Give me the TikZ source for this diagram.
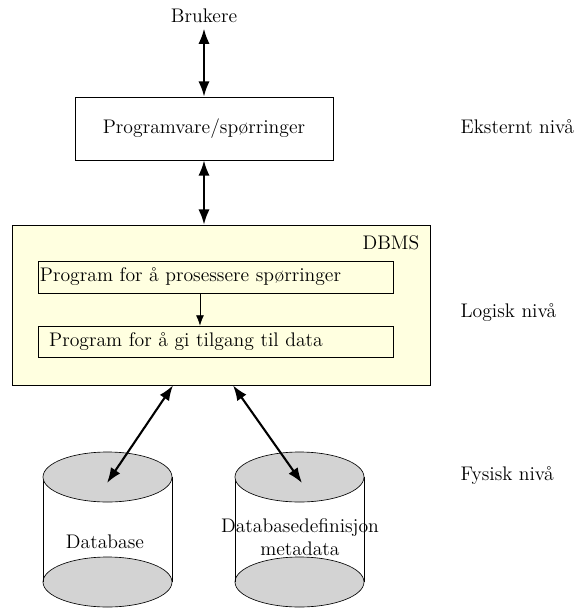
\documentclass[tikz,border=0pt]{standalone}
\usepackage{tikz}
\usetikzlibrary{arrows.meta,positioning}
\definecolor{dbyellow}{RGB}{255,255,224}
\definecolor{dbgray}{RGB}{211,211,211}
\tikzstyle{arrow} = [line width=1.3pt,{Latex[length=9.5pt,width=7pt]}-{Latex[length=9.5pt,width=7pt]}]
\tikzstyle{thinarrow} = [-{Latex[length=6.5pt,width=5pt]}]
\tikzstyle{box} = [draw, rectangle]
\tikzstyle{innerbox} = [draw, rectangle, fill=dbyellow, align=left]
\tikzstyle{disk} = [draw, fill=dbgray]

\begin{document}
\begin{tikzpicture}[x=0.625pt, y=-0.625pt, font=\fontsize{12.3pt}{14.6pt}\selectfont]
    \useasboundingbox (0,0) rectangle (580,610);

    % Users and software
    \node (users) at (204,16) {Brukere};
    \node[box, minimum width=161.2pt, minimum height=39.4pt] (prog) at (204,128.5) {Programvare/spørringer};

    % DBMS
    \node[box, fill=dbyellow, minimum width=261.2pt, minimum height=100pt] (dbms) at (221,305) {};
    \node[anchor=east] (dbmslabel) at (425,243) {DBMS};
    \node[innerbox, inner xsep=1.2pt, text width=219.4pt, minimum height=20pt] (proc) at (215.5,277) {Program for å prosessere spørringer};
    \node[innerbox, inner xsep=7pt, text width=207.9pt, minimum height=19.4pt] (access) at (215.5,341.5) {Program for å gi tilgang til data};

    % Cylinders
    \fill[white] (43,477) rectangle (172,582);
    \draw[disk] (107.5,582) ellipse [x radius=64.5, y radius=25];
    \draw (43,477) -- (43,582) (172,477) -- (172,582);
    \draw[disk] (107.5,477) ellipse [x radius=64.5, y radius=25];
    \fill[white] (235,477) rectangle (364,582);
    \draw[disk] (299.5,582) ellipse [x radius=64.5, y radius=25];
    \draw (235,477) -- (235,582) (364,477) -- (364,582);
    \draw[disk] (299.5,477) ellipse [x radius=64.5, y radius=25];
    \coordinate (dbA) at (107,483);
    \coordinate (dbB) at (302,483);
    \node (database) at (105,542) {Database};
    \node[align=center] (meta) at (300,537) {Databasedefinisjon\\metadata};

    % Levels
    \node[anchor=west] (ext) at (455,127) {Eksternt nivå};
    \node[anchor=west] (log) at (455,313) {Logisk nivå};
    \node[anchor=west] (fys) at (455,476) {Fysisk nivå};

    % Arrows
    \draw[arrow] (users) -- (prog);
    \draw[arrow] (prog.south) -- (prog.south |- dbms.north);
    \draw[thinarrow] ([xshift=-9.7pt]proc.south) -- ([xshift=-9.7pt]access.north);
    \draw[arrow] ([xshift=-30pt]dbms.south) -- (dbA);
    \draw[arrow] ([xshift=7.5pt]dbms.south) -- (dbB);
\end{tikzpicture}
\end{document}
